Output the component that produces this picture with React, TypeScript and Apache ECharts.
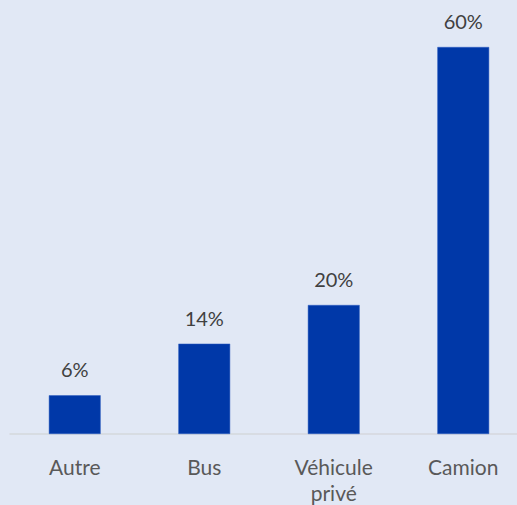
import React, { useEffect, useRef } from "react";
import * as echarts from "echarts";

const categories = ["Autre", "Bus", "Véhicule\nprivé", "Camion"];
const values = [6, 14, 20, 60];

export default function App() {
  const ref = useRef<HTMLDivElement>(null);
  useEffect(() => {
    const chart = echarts.init(ref.current!, null, { renderer: "svg" });
    chart.setOption({
      animation: false,
      backgroundColor: "#E1E8F5",
      grid: { left: 10, right: 0, top: 47, bottom: 70, containLabel: false },
      xAxis: {
        type: "category",
        data: categories,
        axisLine: { lineStyle: { color: "#D4D7DC", width: 1.5 } },
        axisTick: { show: false },
        axisLabel: {
          color: "#595959",
          fontFamily: "Lato",
          fontSize: 21,
          lineHeight: 26,
          margin: 19,
        },
      },
      yAxis: {
        type: "value",
        min: 0,
        max: 60,
        show: false,
        splitLine: { show: false },
      },
      series: [
        {
          type: "bar",
          data: values,
          barWidth: "40%",
          itemStyle: { color: "#0038A8", borderColor: "#2F5FC0", borderWidth: 0.5 },
          label: {
            show: true,
            position: "top",
            distance: 16,
            formatter: "{c}%",
            color: "#404040",
            fontFamily: "Lato",
            fontSize: 20,
          },
        },
      ],
    });
    return () => chart.dispose();
  }, []);
  return (
    <div style={{ position: "fixed", left: 0, top: 0, width: 517, height: 505, overflow: "hidden" }}>
      <div ref={ref} style={{ width: 528, height: 505 }} />
    </div>
  );
}
